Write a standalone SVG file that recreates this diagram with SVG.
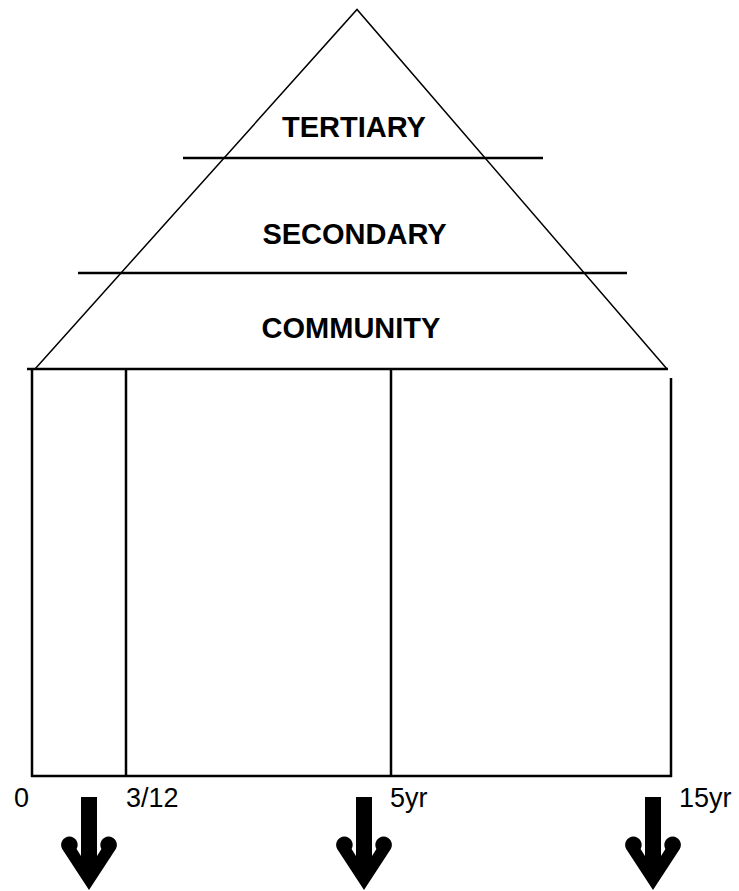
<svg xmlns="http://www.w3.org/2000/svg" width="739" height="891" viewBox="0 0 739 891">
<style>
.thin{stroke:#000;stroke-width:1.5;fill:none}
.line{stroke:#000;stroke-width:2.5;fill:none}
.lvl{font-family:"Liberation Sans",Arial,sans-serif;font-weight:bold;font-size:29px;fill:#000;text-anchor:middle}
.tick{font-family:"Liberation Sans",Arial,sans-serif;font-size:27px;fill:#000}
</style>
<defs>
<path id="arrow" d="M-8,797 H8 V856 L12.4,849 A8.3 8.3 0 1 1 26.8,849 L0,890 L-26.8,849 A8.3 8.3 0 1 1 -12.4,849 L-8,856 Z" fill="#000"/>
</defs>
<rect width="739" height="891" fill="#fff"/>
<g id="pyramid">
<polyline class="thin" points="35,369 357,9.5 667,369"/>
</g>
<g id="tertiary">
<line class="line" x1="183" y1="158" x2="543" y2="158"/>
<text class="lvl" x="354" y="137">TERTIARY</text>
</g>
<g id="secondary">
<line class="line" x1="78" y1="273" x2="627" y2="273"/>
<text class="lvl" x="354.5" y="243.5">SECONDARY</text>
</g>
<g id="community">
<line class="line" x1="27" y1="369" x2="668" y2="369"/>
<text class="lvl" x="351" y="337.5">COMMUNITY</text>
</g>
<g id="timeline">
<line class="line" x1="32" y1="369" x2="32" y2="777"/>
<line class="line" x1="126" y1="369" x2="126" y2="777"/>
<line class="line" x1="391" y1="369" x2="391" y2="777"/>
<line class="line" x1="671" y1="378" x2="671" y2="777"/>
<line class="line" x1="31" y1="776" x2="672" y2="776"/>
<text class="tick" x="14" y="807">0</text>
<text class="tick" x="126" y="807">3/12</text>
<text class="tick" x="390" y="807">5yr</text>
<text class="tick" x="679" y="807">15yr</text>
</g>
<g id="connectors">
<use href="#arrow" x="89" y="0"/>
<use href="#arrow" x="364" y="0"/>
<use href="#arrow" x="653" y="0"/>
</g>
</svg>
